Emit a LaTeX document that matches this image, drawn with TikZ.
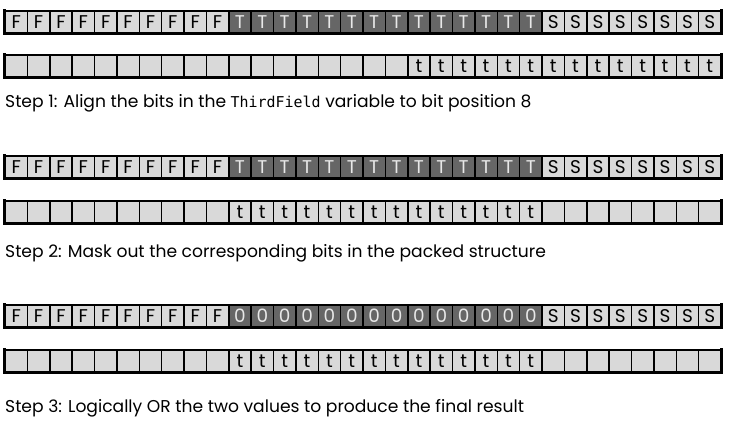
\documentclass[tikz,border=0pt]{standalone}
\usepackage{fontspec}
\setmainfont{Poppins}
\newfontfamily\codefont{DejaVu Sans Mono}
\definecolor{cellgray}{RGB}{217,217,217}
\definecolor{darkcell}{RGB}{102,102,102}
\definecolor{darktext}{RGB}{232,232,232}
\begin{document}
\begin{tikzpicture}[x=1bp,y=-1bp,
 cellbox/.style={draw=black, line width=1.5bp, fill=cellgray, minimum width=22.375bp, minimum height=22bp, inner sep=0pt, font=\fontsize{18.5}{18.5}\selectfont, text=black},
 darkbox/.style={cellbox, fill=darkcell, text=darktext},
 rowline/.style={line width=2.6bp, line cap=rect},
 caption/.style={anchor=base west, inner sep=0pt, font=\fontsize{17.2}{17.2}\selectfont}]
\useasboundingbox[fill=white] (0,0) rectangle (732,430);
% Step 1
\foreach \i in {0,...,9} \node[cellbox] (a\i) at ({5+22.375*(\i+0.5)},22) {F};
\foreach \i in {10,...,23} \node[darkbox] (a\i) at ({5+22.375*(\i+0.5)},22) {T};
\foreach \i in {24,...,31} \node[cellbox] (a\i) at ({5+22.375*(\i+0.5)},22) {S};
\foreach \i in {0,...,17} \node[cellbox] (b\i) at ({5+22.375*(\i+0.5)},66) {};
\foreach \i in {18,...,31} \node[cellbox] (b\i) at ({5+22.375*(\i+0.5)},66) {t};
\node[caption] (s1) at (5,107) {Step 1: Align the bits in the {\codefont\fontsize{15}{15}\selectfont ThirdField} variable to bit position 8};
% Step 2
\foreach \i in {0,...,9} \node[cellbox] (c\i) at ({5+22.375*(\i+0.5)},167) {F};
\foreach \i in {10,...,23} \node[darkbox] (c\i) at ({5+22.375*(\i+0.5)},167) {T};
\foreach \i in {24,...,31} \node[cellbox] (c\i) at ({5+22.375*(\i+0.5)},167) {S};
\foreach \i in {0,...,9} \node[cellbox] (d\i) at ({5+22.375*(\i+0.5)},212) {};
\foreach \i in {10,...,23} \node[cellbox] (d\i) at ({5+22.375*(\i+0.5)},212) {t};
\foreach \i in {24,...,31} \node[cellbox] (d\i) at ({5+22.375*(\i+0.5)},212) {};
\node[caption] (s2) at (5,257) {Step 2: Mask out the corresponding bits in the packed structure};
% Step 3
\foreach \i in {0,...,9} \node[cellbox] (e\i) at ({5+22.375*(\i+0.5)},316) {F};
\foreach \i in {10,...,23} \node[darkbox] (e\i) at ({5+22.375*(\i+0.5)},316) {0};
\foreach \i in {24,...,31} \node[cellbox] (e\i) at ({5+22.375*(\i+0.5)},316) {S};
\foreach \i in {0,...,9} \node[cellbox] (f\i) at ({5+22.375*(\i+0.5)},361) {};
\foreach \i in {10,...,23} \node[cellbox] (f\i) at ({5+22.375*(\i+0.5)},361) {t};
\foreach \i in {24,...,31} \node[cellbox] (f\i) at ({5+22.375*(\i+0.5)},361) {};
\node[caption] (s3) at (5,412) {Step 3: Logically OR the two values to produce the final result};
% heavy outlines
\foreach \r in {a,b,c,d,e,f} {
  \draw[rowline] (\r0.south west) -- (\r31.south east) -- (\r31.north east);
  \draw[rowline] (\r0.south west) -- (\r0.north west);
}
\end{tikzpicture}
\end{document}
